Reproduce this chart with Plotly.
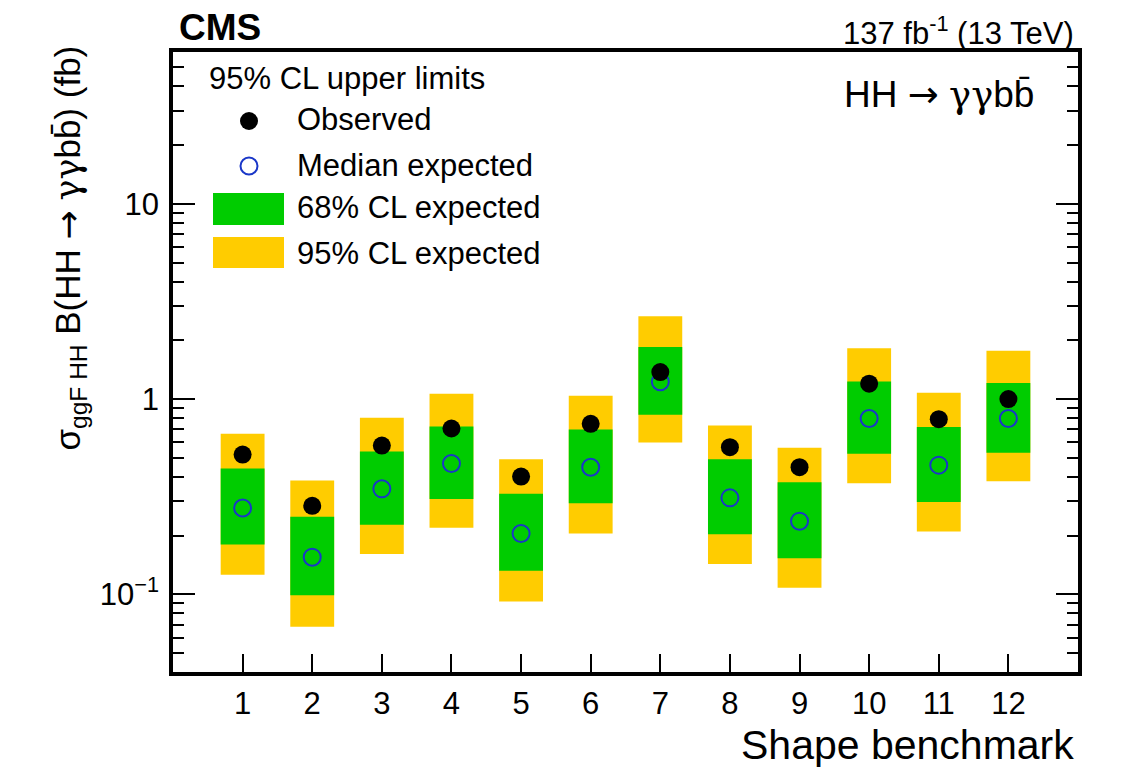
import math
import plotly.graph_objects as go

# ---- data ----
benchmarks = list(range(1, 13))
observed = [0.52, 0.284, 0.578, 0.707, 0.401, 0.747, 1.375, 0.567, 0.448, 1.20, 0.789, 1.00]
expected = [0.277, 0.155, 0.347, 0.468, 0.205, 0.448, 1.227, 0.312, 0.237, 0.796, 0.459, 0.796]
lo68 = [0.180, 0.0988, 0.227, 0.308, 0.132, 0.293, 0.831, 0.203, 0.153, 0.525, 0.297, 0.531]
hi68 = [0.441, 0.250, 0.539, 0.724, 0.327, 0.699, 1.85, 0.492, 0.375, 1.23, 0.719, 1.21]
lo95 = [0.126, 0.0683, 0.161, 0.219, 0.092, 0.205, 0.600, 0.143, 0.108, 0.371, 0.210, 0.380]
hi95 = [0.664, 0.383, 0.802, 1.064, 0.492, 1.04, 2.66, 0.733, 0.563, 1.82, 1.077, 1.77]
ytick_vals = [0.1, 1, 10]
ytick_text = ["10<sup>\u22121</sup>", "1", "10"]

FONT = "Liberation Sans, Arial, Helvetica, sans-serif"
GREEN = "#00CC00"
YELLOW = "#FFCC00"
BLUE = "#1a37c8"

W, H = 1127, 773
L, R, T, B = 173, 1078, 52, 672


def px(x):
    return (x - L) / (R - L)


def py(y):
    return (B - y) / (B - T)


ARROW = "<span style='font-family:DejaVu Sans'>\u2192</span>"
GAMMA = "<span style='font-family:DejaVu Serif'>\u03b3\u03b3</span>"

fig = go.Figure()
fig.add_bar(x=benchmarks, y=[h - l for h, l in zip(hi95, lo95)], base=lo95, width=0.63,
            marker=dict(color=YELLOW, line=dict(width=0)), hoverinfo="skip")
fig.add_bar(x=benchmarks, y=[h - l for h, l in zip(hi68, lo68)], base=lo68, width=0.63,
            marker=dict(color=GREEN, line=dict(width=0)), hoverinfo="skip")
fig.add_scatter(x=benchmarks, y=expected, mode="markers",
                marker=dict(symbol="circle-open", size=17, color=BLUE, line=dict(width=2, color=BLUE)))
fig.add_scatter(x=benchmarks, y=observed, mode="markers",
                marker=dict(symbol="circle", size=18, color="black"))

minor_vals = [0.05, 0.06, 0.07, 0.08, 0.09] + [i / 10 for i in range(2, 10)] + list(range(2, 10)) + [20, 30, 40, 50]

fig.update_layout(
    width=W, height=H,
    margin=dict(l=L, r=W - R, t=T, b=H - B),
    barmode="overlay",
    showlegend=False,
    plot_bgcolor="white", paper_bgcolor="white",
    font=dict(family=FONT, color="black"),
    xaxis=dict(range=[0, 13], tickmode="array", tickvals=benchmarks, ticks="inside", ticklen=18,
               tickwidth=2, tickcolor="black", showline=True, linecolor="black", linewidth=3.5,
               mirror=True, showgrid=False, zeroline=False, tickfont=dict(size=31, family=FONT),
               ticklabelstandoff=1),
    yaxis=dict(type="log", range=[math.log10(0.04), math.log10(60)], tickmode="array",
               tickvals=ytick_vals, ticktext=ytick_text, ticks="inside", ticklen=22, tickwidth=2,
               tickcolor="black", showline=True, linecolor="black", linewidth=3.5, mirror="ticks",
               showgrid=False, zeroline=False, tickfont=dict(size=31, family=FONT),
               ticklabelstandoff=4,
               minor=dict(tickmode="array", tickvals=minor_vals, ticks="inside", ticklen=11,
                          tickwidth=2, tickcolor="black", showgrid=False)),
)

ann = []
ann.append(dict(text="<b>CMS</b>", x=px(177), y=py(27), xanchor="left", yanchor="middle",
                font=dict(size=37, family=FONT)))
ann.append(dict(text="137 fb<sup>-1</sup> (13 TeV)", x=px(1076), y=py(31), xanchor="right",
                yanchor="middle", font=dict(size=31, family=FONT)))
ann.append(dict(text="HH " + ARROW + " " + GAMMA + "bb\u0304", x=px(1036), y=py(94), xanchor="right",
                yanchor="middle", font=dict(size=37, family=FONT)))
ann.append(dict(text="Shape benchmark", x=px(1076), y=py(745), xanchor="right", yanchor="middle",
                font=dict(size=41, family=FONT)))
ann.append(dict(text="\u03c3<sub>ggF HH</sub> B(HH " + ARROW + " " + GAMMA + "bb\u0304) (fb)",
                textangle=-90, x=px(70), y=py(44), xanchor="center", yanchor="top",
                font=dict(size=35, family=FONT)))
# legend texts
ann.append(dict(text="95% CL upper limits", x=px(207), y=py(78), xanchor="left", yanchor="middle",
                font=dict(size=31, family=FONT)))
for label, yc in [("Observed", 120), ("Median expected", 165), ("68% CL expected", 208),
                  ("95% CL expected", 253)]:
    ann.append(dict(text=label, x=px(295), y=py(yc), xanchor="left", yanchor="middle",
                    font=dict(size=31, family=FONT)))
for a in ann:
    a.update(xref="paper", yref="paper", showarrow=False)
fig.update_layout(annotations=ann)

shapes = [
    dict(type="rect", xref="paper", yref="paper", x0=px(213), x1=px(284), y0=py(225), y1=py(193),
         fillcolor=GREEN, line=dict(width=0)),
    dict(type="rect", xref="paper", yref="paper", x0=px(213), x1=px(284), y0=py(268), y1=py(237),
         fillcolor=YELLOW, line=dict(width=0)),
    dict(type="circle", xref="paper", yref="paper", xsizemode="pixel", ysizemode="pixel",
         xanchor=px(249), yanchor=py(121), x0=-9, x1=9, y0=-9, y1=9,
         fillcolor="black", line=dict(width=0)),
    dict(type="circle", xref="paper", yref="paper", xsizemode="pixel", ysizemode="pixel",
         xanchor=px(249), yanchor=py(166), x0=-8.5, x1=8.5, y0=-8.5, y1=8.5,
         line=dict(width=2, color=BLUE)),
]
fig.update_layout(shapes=shapes)

fig.write_html("out.html")
